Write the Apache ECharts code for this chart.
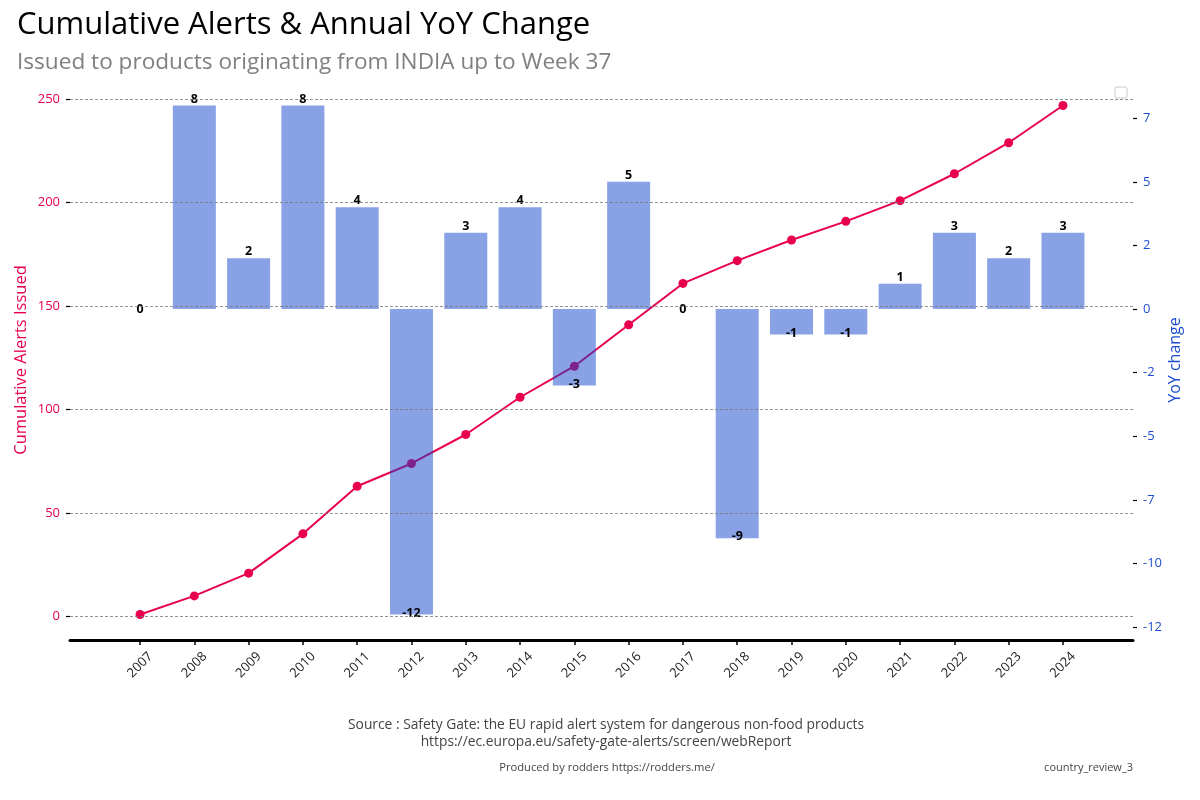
<!DOCTYPE html>
<html><head><meta charset="utf-8">
<script src="https://cdn.jsdelivr.net/npm/echarts@6/dist/echarts.min.js"></script>
<style>html,body{margin:0;padding:0;background:#fff}#c{width:1200px;height:800px}</style>
</head><body><div id="c"></div>
<script>
const years = ['2007','2008','2009','2010','2011','2012','2013','2014','2015','2016','2017','2018','2019','2020','2021','2022','2023','2024'];
const cumulative = [1,10,21,40,63,74,88,106,121,141,161,172,182,191,201,214,229,247];
const yoy = [0,8,2,8,4,-12,3,4,-3,5,0,-9,-1,-1,1,3,2,3];
const leftTicks = [0,50,100,150,200,250];
const rightTicks = [-12.5,-10,-7.5,-5,-2.5,0,2.5,5,7.5];
const xTicks = years.map((y,i)=>i);

const FONT = '"Open Sans", sans-serif';
const CRIMSON = '#e8004c';
const BLUE = '#1f4fd0';

const chart = echarts.init(document.getElementById('c'));
const option = {
  backgroundColor: '#fff',
  animation: false,
  title: [
    {text: 'Cumulative Alerts & Annual YoY Change', left: 12, top: 5,
     textStyle: {fontFamily: FONT, fontSize: 31, fontWeight: 'normal', color: '#000'}},
    {text: 'Issued to products originating from INDIA up to Week 37', left: 12, top: 46,
     textStyle: {fontFamily: FONT, fontSize: 22.6, fontWeight: 'normal', color: '#808080'}},
    {text: 'Source : Safety Gate: the EU rapid alert system for dangerous non-food products\nhttps://ec.europa.eu/safety-gate-alerts/screen/webReport',
     left: 601, top: 712, textAlign: 'center',
     textStyle: {fontFamily: FONT, fontSize: 13.8, fontWeight: 'normal', color: '#444', lineHeight: 17, align: 'center'}},
    {text: 'Produced by rodders https://rodders.me/', left: 602, top: 757, textAlign: 'center',
     textStyle: {fontFamily: FONT, fontSize: 11.2, fontWeight: 'normal', color: '#444'}},
    {text: 'country_review_3', right: 62, top: 757,
     textStyle: {fontFamily: FONT, fontSize: 11, fontWeight: 'normal', color: '#444'}}
  ],
  graphic: [
    {type: 'rect', shape: {x: 1115, y: 87, width: 12, height: 11, r: 2},
     style: {fill: '#fff', stroke: '#ccc', lineWidth: 1}}
  ],
  grid: {left: 70, right: 67, top: 80, bottom: 160, containLabel: false},
  xAxis: {
    type: 'value', min: -1.29, max: 18.29,
    axisLine: {show: true, onZero: false, lineStyle: {color: '#000', width: 3}},
    axisTick: {show: true, customValues: xTicks, length: 5, lineStyle: {color: '#000', width: 1.5}},
    axisLabel: {show: true, customValues: xTicks, rotate: 45, margin: 25, align: 'center', verticalAlign: 'middle',
      formatter: v => years[Math.round(v)] || '',
      fontFamily: FONT, fontSize: 13, color: '#222'},
    splitLine: {show: false}
  },
  yAxis: [
    {type: 'value', min: -11.3, max: 259.3, position: 'left',
     name: 'Cumulative Alerts Issued', nameLocation: 'middle', nameGap: 40, nameMoveOverlap: false,
     nameTextStyle: {fontFamily: FONT, fontSize: 16.5, color: CRIMSON},
     axisLine: {show: false, onZero: false},
     axisTick: {show: true, customValues: leftTicks, length: 4, lineStyle: {color: '#000', width: 1.2}},
     axisLabel: {show: true, customValues: leftTicks, margin: 10, fontFamily: FONT, fontSize: 13, color: CRIMSON},
     splitLine: {show: false}},
    {type: 'value', min: -13, max: 9, position: 'right',
     name: 'YoY change', nameLocation: 'middle', nameGap: 34, nameMoveOverlap: false,
     nameTextStyle: {fontFamily: FONT, fontSize: 16, color: BLUE},
     axisLine: {show: false, onZero: false},
     axisTick: {show: true, customValues: rightTicks, length: 4, lineStyle: {color: '#000', width: 1.2}},
     axisLabel: {show: true, customValues: rightTicks, margin: 10, formatter: v => String(Math.trunc(v)),
       fontFamily: FONT, fontSize: 13, color: BLUE},
     splitLine: {show: false}}
  ],
  series: [
    {type: 'line', name: 'Cumulative', xAxisIndex: 0, yAxisIndex: 0, z: 2,
     data: cumulative.map((v,i)=>[i,v]),
     symbol: 'circle', symbolSize: 9, showSymbol: true,
     lineStyle: {color: CRIMSON, width: 2}, itemStyle: {color: CRIMSON}},
    {type: 'bar', name: 'YoY', xAxisIndex: 0, yAxisIndex: 1, z: 3,
     barWidth: 43,
     itemStyle: {color: 'rgba(20,70,205,0.5)'},
     data: yoy.map((v,i)=>({
       value: [i,v],
       label: v > 0 ? {position: 'top', distance: 0}
            : v < 0 ? {position: 'bottom', distance: -8}
            : {position: 'inside'}
     })),
     label: {show: true, formatter: p => String(p.value[1]), fontFamily: FONT, fontSize: 12.5, fontWeight: 'bold', color: '#000'}},
    {type: 'line', name: 'grid', xAxisIndex: 0, yAxisIndex: 0, z: 5,
     data: cumulative.map((v,i)=>[i,v]), showSymbol: false, symbol: 'none',
     lineStyle: {width: 0, opacity: 0}, silent: true,
     markLine: {silent: true, symbol: ['none','none'], label: {show: false},
       lineStyle: {color: '#777', type: [3,2], width: 0.8},
       data: leftTicks.map(t => ({yAxis: t}))}}
  ]
};
chart.setOption(option);
</script>
</body></html>
